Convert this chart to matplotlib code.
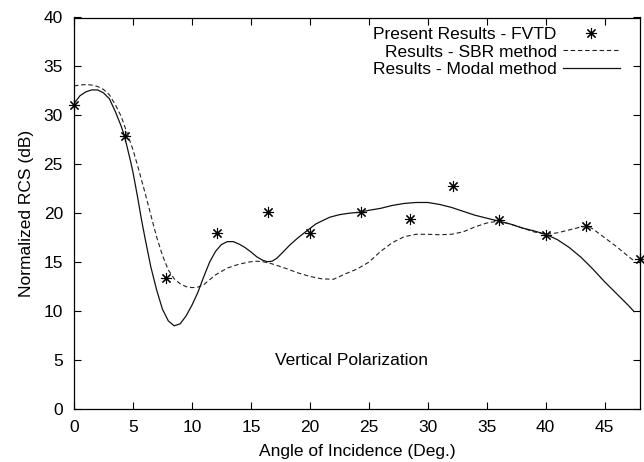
import matplotlib
matplotlib.use("Agg")
import matplotlib.pyplot as plt

plt.rcParams['font.family'] = ['Liberation Sans', 'DejaVu Sans']

# FVTD points
fvtd_x = [0, 4.3, 7.8, 12.1, 16.45, 20.0, 24.3, 28.5, 32.1, 36.0, 40.0, 43.4, 48.0]
fvtd_y = [31.1, 27.9, 13.4, 18.0, 20.1, 18.0, 20.15, 19.4, 22.8, 19.3, 17.8, 18.7, 15.3]

# SBR method (dashed)
sbr_x = [0, 0.5, 1.0, 1.5, 2.0, 2.5, 3.0, 3.5, 4.0, 4.5, 5.0, 5.5, 6.0, 6.5, 7.0, 7.5,
         8.0, 8.5, 9.0, 9.5, 10.0, 10.5, 11.0, 11.5, 12.0, 13.0, 14.0, 15.0, 15.5, 16.0,
         16.6, 17.0, 18.0, 19.0, 20.0, 21.0, 22.0, 23.0, 24.0, 25.0, 26.0, 27.0, 28.0,
         29.0, 30.0, 31.0, 32.0, 33.0, 34.0, 35.0, 36.0, 37.0, 38.0, 39.0, 40.0, 41.0,
         42.0, 43.0, 43.6, 44.0, 45.0, 46.0, 47.0, 47.6]
sbr_y = [33.0, 33.1, 33.15, 33.1, 32.95, 32.65, 32.1, 31.1, 29.9, 28.2, 26.5, 24.4,
         22.2, 19.9, 17.6, 15.7, 14.2, 13.3, 12.8, 12.5, 12.4, 12.45, 12.7, 13.2, 13.7,
         14.4, 14.8, 15.05, 15.1, 15.05, 14.9, 14.75, 14.35, 13.9, 13.55, 13.3, 13.25,
         13.8, 14.3, 15.0, 16.1, 17.0, 17.6, 17.85, 17.85, 17.8, 17.85, 18.1, 18.6, 19.0,
         19.2, 18.9, 18.5, 18.1, 17.85, 18.0, 18.3, 18.6, 18.65, 18.4, 17.5, 16.6, 15.6,
         15.05]

# Modal method (solid)
modal_x = [0, 0.5, 1.0, 1.5, 2.0, 2.5, 3.0, 3.5, 4.0, 4.25, 4.5, 4.8, 5.0, 5.4, 5.7, 6.0,
           6.5, 7.0, 7.5, 8.0, 8.5, 9.0, 9.5, 10.0, 10.5, 11.0, 11.5, 12.0, 12.5, 13.0,
           13.5, 14.0, 14.5, 15.0, 15.5, 16.0, 16.4, 16.8, 17.2, 17.7, 18.3, 19.0, 19.9,
           20.5, 21.0, 21.7, 22.5, 23.3, 24.2, 25.0, 26.0, 27.0, 28.0, 29.0, 30.0, 31.0,
           32.0, 33.0, 34.0, 35.0, 36.0, 37.0, 38.0, 39.0, 40.0, 41.0, 42.0, 43.0, 44.0,
           45.0, 46.0, 47.0, 47.5]
modal_y = [31.2, 32.0, 32.4, 32.6, 32.6, 32.3, 31.7, 30.4, 28.9, 28.0, 26.8, 25.3, 24.2,
           21.6, 19.5, 17.6, 14.6, 12.2, 10.2, 9.0, 8.5, 8.7, 9.5, 10.6, 11.9, 13.5, 15.0,
           16.1, 16.8, 17.1, 17.1, 16.85, 16.5, 16.05, 15.55, 15.2, 15.05, 15.1, 15.4,
           16.0, 16.75, 17.5, 18.35, 18.9, 19.2, 19.6, 19.85, 20.0, 20.1, 20.3, 20.5, 20.8,
           21.0, 21.1, 21.1, 20.9, 20.6, 20.2, 19.8, 19.5, 19.2, 18.9, 18.5, 18.2, 17.85,
           17.3, 16.5, 15.5, 14.3, 13.0, 11.8, 10.6, 9.95]

xticks = [0, 5, 10, 15, 20, 25, 30, 35, 40, 45]
yticks = [0, 5, 10, 15, 20, 25, 30, 35, 40]

FS = 12.5

fig = plt.figure(figsize=(6.44, 4.62), dpi=100)
ax = fig.add_axes([74/644, 53/462, 566/644, 391.5/462])

ax.plot(fvtd_x, fvtd_y, linestyle='none', marker=(8, 2, 0), markersize=8,
        markeredgewidth=0.8, color='black', clip_on=False,
        label='Present Results - FVTD')
ax.plot(sbr_x, sbr_y, linestyle=(0, (4, 2.5)), linewidth=0.8, color='#222222',
        label='Results - SBR method')
ax.plot(modal_x, modal_y, linestyle='-', linewidth=0.9, color='#111111',
        label='Results - Modal method')

ax.set_xlim(0, 48)
ax.set_ylim(0, 40)
ax.set_xticks(xticks)
ax.set_yticks(yticks)
ax.tick_params(direction='in', length=5, width=0.8, top=True, right=True,
               labelsize=FS, pad=8)
for s in ax.spines.values():
    s.set_linewidth(0.9)

ax.set_xlabel('Angle of Incidence (Deg.)', fontsize=FS, labelpad=6.5)
ax.set_ylabel('Normalized RCS (dB)', fontsize=FS, labelpad=7)

ax.text(23.5, 5, 'Vertical Polarization', ha='center', va='center', fontsize=FS)

leg = ax.legend(loc='upper right', bbox_to_anchor=(0.974, 0.99), markerfirst=False,
                frameon=False, fontsize=FS, handlelength=3.3, handletextpad=0.35,
                labelspacing=0.15, borderaxespad=0.0, borderpad=0.3)

fig.savefig('out.png', dpi=100)
